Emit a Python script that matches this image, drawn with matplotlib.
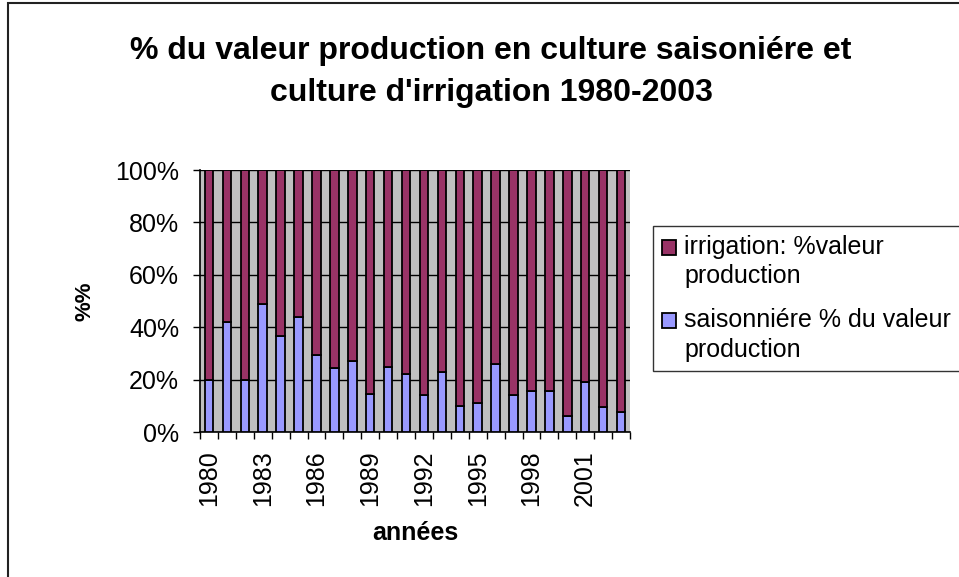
import matplotlib
matplotlib.use("Agg")
from matplotlib import pyplot as plt
from matplotlib.patches import Rectangle
from matplotlib.legend_handler import HandlerPatch
import numpy as np

years = list(range(1980, 2004))
saisonniere = [20, 42, 20, 49, 36.5, 44, 29.5, 24.5, 27, 14.5, 25, 22,
               14, 23, 10, 11, 26, 14, 15.5, 15.5, 6, 19, 9.5, 7.5]
irrigation = [100 - v for v in saisonniere]
tick_years = [1980, 1983, 1986, 1989, 1992, 1995, 1998, 2001]

label_irr = "irrigation: %valeur\nproduction"
label_sais = "saisonniére % du valeur\nproduction"


def top_square(legend, orig_handle, xdescent, ydescent, width, height, fontsize):
    # put the marker next to the first line of the label, like Excel
    return Rectangle((-xdescent, -ydescent + 0.6 * fontsize), width, height)


def main():
    plt.rcParams['font.family'] = ['Liberation Sans', 'DejaVu Sans']
    fig = plt.figure(figsize=(9.59, 5.77), dpi=100)
    ax = fig.add_axes([200 / 959, 1 - 432 / 577, 430 / 959, 262 / 577])

    x = np.arange(len(years))
    ax.set_facecolor('#C0C0C0')
    b1 = ax.bar(x, saisonniere, width=0.47, color='#9999FF',
                edgecolor='black', linewidth=1.3, zorder=3)
    b2 = ax.bar(x, irrigation, width=0.47, bottom=saisonniere, color='#993366',
                edgecolor='black', linewidth=1.3, zorder=3)

    ax.set_xlim(-0.5, len(years) - 0.5)
    ax.set_ylim(0, 100)
    ax.set_yticks(range(0, 101, 20))
    ax.set_yticklabels([f"{v}%" for v in range(0, 101, 20)], fontsize=18)
    ax.yaxis.grid(True, color='black', linewidth=1.0, zorder=1)
    ax.set_axisbelow(True)

    # labels at centres, tick marks at category boundaries
    ax.set_xticks([years.index(y) for y in tick_years])
    ax.set_xticklabels([str(y) for y in tick_years], rotation=90, fontsize=18)
    ax.set_xticks(np.arange(-0.5, len(years), 1), minor=True)
    ax.tick_params(axis='x', which='major', length=0, pad=13)
    ax.tick_params(axis='x', which='minor', length=5, width=1, direction='out')
    ax.tick_params(axis='y', length=5, width=1, pad=10)

    for s in ['top', 'right']:
        ax.spines[s].set_visible(False)
    for s in ['left', 'bottom']:
        ax.spines[s].set_color('black')
        ax.spines[s].set_linewidth(1.2)

    ax.set_xlabel("années", fontsize=18, fontweight='bold', labelpad=11)
    ax.set_ylabel("%%", fontsize=16, fontweight='bold', labelpad=14)

    fig.text(491 / 959, 1 - 72 / 577,
             "% du valeur production en culture saisoniére et\nculture d'irrigation 1980-2003",
             ha='center', va='center', fontsize=23, fontweight='bold',
             linespacing=1.5)

    h = HandlerPatch(patch_func=top_square)
    leg = fig.legend([b2.patches[0], b1.patches[0]], [label_irr, label_sais],
                     loc='upper left', bbox_to_anchor=(653 / 959, 1 - 226 / 577),
                     fontsize=18, frameon=True, fancybox=False,
                     edgecolor='black', handlelength=0.55, handleheight=0.55,
                     handletextpad=0.35, borderaxespad=0, borderpad=0.35,
                     labelspacing=0.8,
                     handler_map={Rectangle: h})
    for t in leg.get_texts():
        t.set_linespacing(1.3)
    leg.get_frame().set_linewidth(1.0)

    fig.patches.append(Rectangle((8 / 959, -0.1), 1.2, 1 - 3 / 577 + 0.1,
                                 transform=fig.transFigure, fill=False,
                                 edgecolor='#222222', linewidth=1.5))

    fig.savefig("out.png", dpi=100)


if __name__ == '__main__':
    main()
